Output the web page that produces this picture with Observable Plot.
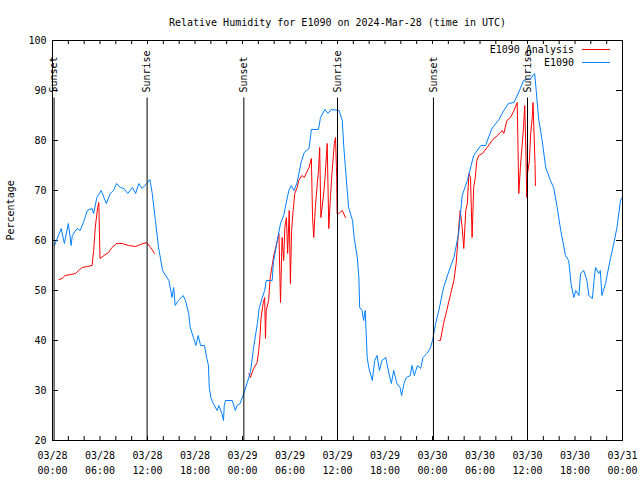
<!DOCTYPE html>
<html>
<head>
<meta charset="utf-8">
<script src="https://cdn.jsdelivr.net/npm/d3@7"></script>
<script src="https://cdn.jsdelivr.net/npm/@observablehq/plot@0.6"></script>
<style>
  html, body { margin: 0; padding: 0; background: #fff; }
  #chart { width: 640px; height: 480px; }
</style>
</head>
<body>
<div id="chart"></div>
<script>
// ---- data (hours since 2024-03-28 00:00 UTC) ----
const titleText = "Relative Humidity for E1090 on 2024-Mar-28 (time in UTC)";
const yLabel = "Percentage";
const seriesNames = ["E1090 Analysis", "E1090"];

const e1090Hours = [0.25,1.1,1.5,2.0,2.36,2.5,3.1,3.5,3.9,4.4,5.0,5.2,5.6,6.15,6.8,7.3,7.7,8.1,8.6,9.0,9.5,10.1,10.5,10.9,11.3,11.9,12.3,12.6,13.0,13.4,13.9,14.3,14.7,15.1,15.3,15.5,15.9,16.5,16.8,17.2,17.4,17.8,18.1,18.4,18.7,19.2,19.5,19.7,19.8,20.0,20.3,20.8,21.0,21.4,21.6,21.7,21.85,22.7,23.1,23.3,23.7,24.2,24.6,25.0,25.4,25.9,26.1,26.5,26.8,27.0,27.75,27.9,28.4,28.8,29.2,29.85,30.15,30.5,30.9,31.4,31.8,32.4,32.7,33.6,33.85,34.4,34.8,35.2,36.2,36.6,36.8,37.0,37.2,37.4,37.9,38.1,38.5,38.7,38.8,39.1,39.3,39.5,39.75,39.95,40.4,40.7,41.0,41.3,41.6,42.1,42.5,42.8,43.1,43.5,43.9,44.1,44.4,44.7,45.2,45.4,45.7,46.1,46.5,46.8,47.3,47.7,48.0,48.4,48.8,49.4,50.1,50.7,51.3,51.75,52.4,53.2,54.1,54.7,55.5,56.4,57.0,57.6,58.3,59.1,59.5,60.4,60.9,61.1,61.4,61.85,62.3,62.9,63.3,63.75,64.2,64.8,65.2,65.5,65.85,66.1,66.5,66.7,67.1,67.5,67.75,68.2,68.4,68.6,69.0,69.2,69.4,69.85,70.5,70.9,71.3,71.75,71.96];
const e1090Values = [59,62.4,59.4,63.4,59,61,62.4,62,63.6,66,66.4,65.4,68.6,70,67.4,69.4,70,71.4,70.6,70.4,69.4,70.6,69.4,71.4,70.4,71.4,72.2,69.4,64,58.6,54,53,52,48.6,50.6,47,48,49,48,45.4,42.6,40.6,39,41,39,39,36.4,35,30.6,28.6,27.4,26,27,25.4,24,27,28,28,26,27,27.4,29.6,31.6,33.6,38.6,43.6,46.4,48.6,50,52,52,55.6,60,63.4,65,70,71,70,71.6,75.6,77.6,78.4,82.2,82.2,84.6,86.2,85.4,86.2,86,84,78.6,74.6,70.6,66.6,64,60.6,56.6,52.6,46.6,46,44,46,36.6,34.6,32,36,37,34,36,36.6,33.4,31.4,34,31.4,30.6,29,31.4,32.6,33,35,33,35,34.4,36.6,37.4,38.4,40,43.4,46,50.6,54,56.6,61.4,69,72,77,79,79,82.4,84.2,86,87.4,87.6,90.4,92,92.4,93.4,90,84.4,80,74.6,72,70.6,66.6,62,57,56,51.4,48.6,50,49,53.4,54,52,49,48.4,52,54.6,53.4,54,49,51.4,56.6,59.4,62.6,68,68.6];

// null marks a gap in the analysis series
const analysisHours = [0.8,1.2,1.6,2.3,2.9,3.3,3.75,4.4,5.0,5.2,5.4,5.7,5.85,6.0,6.5,7.1,7.5,8.1,8.8,9.6,10.5,11.1,11.9,12.4,12.9,
  18.0,
  24.8,25.0,25.4,25.85,26.05,26.2,26.35,26.6,26.8,26.9,27.0,27.3,27.5,27.75,27.95,28.2,28.4,28.6,28.8,29.0,29.2,29.35,29.55,29.7,29.9,30.05,30.2,30.4,30.6,30.9,31.1,31.5,31.8,32.4,32.7,32.85,33.0,33.2,33.45,33.6,33.75,33.9,34.2,34.4,34.7,34.9,35.1,35.3,35.6,35.75,35.9,35.95,36.15,36.6,37.0,
  42.0,
  48.8,49.0,49.4,49.8,50.3,50.7,51.0,51.2,51.4,51.5,51.75,51.95,52.2,52.4,52.6,52.8,53.0,53.2,53.4,53.6,53.85,54.3,54.9,55.5,56.2,56.8,57.0,57.4,57.85,58.3,58.7,58.8,58.9,59.1,59.3,59.5,59.65,59.8,59.9,60.0,60.25,60.4,60.6,60.7,60.8,60.95,61.0];
const analysisValues = [52.2,52.4,53,53.2,53.4,54,54.6,54.8,55,58,62.6,66.6,67.6,56.4,57,57.6,58.6,59.4,59.4,59,58.8,59.2,59.6,58.6,57.4,
  null,
  33.4,32.6,34.4,35.6,38,40.6,44.6,47.4,48.6,40.4,46,48,52.6,55,57,58.6,60,61.4,47.6,60.6,56,62.6,64.6,57.4,66,51.4,62,66,69.4,70.6,72,73,72.6,74.6,76.4,64.6,60.6,66.6,71.4,74,78.6,64.6,68.6,72,79.4,62.4,68.6,73.4,79.4,80.6,72.6,65.4,65.4,66,64.6,
  null,
  40,40,43.4,46,49.4,52,55.6,60,64.4,66,62.6,58.4,66,67.4,73.4,72.6,60.6,70.6,72.6,76,77,77.4,78.6,80,81,82,81.4,84,84.6,86,87.6,78.6,69.4,74.6,78.6,82.6,87,78,68.6,73.4,76,81.4,84.6,87.6,82.6,75.4,71];

const sunEventNames = ["Sunset","Sunrise","Sunset","Sunrise","Sunset","Sunrise"];
const sunEventHours = [0.2,11.95,24.17,36.0,48.12,60.0];

const tickLabelHours = [0,6,12,18,24,30,36,42,48,54,60,66,72];
const yTicks = [20,30,40,50,60,70,80,90,100];

// ---- build tables ----
const t0 = Date.UTC(2024, 2, 28);
const toDate = h => new Date(t0 + h * 3600e3);
const e1090 = e1090Hours.map((h, i) => ({t: toDate(h), v: e1090Values[i]}));
const analysis = analysisHours.map((h, i) => ({t: toDate(h), v: analysisValues[i]}));
const sun = sunEventHours.map((h, i) => ({t: toDate(h), name: sunEventNames[i]}));
const tickDates = tickLabelHours.map(toDate);
const minorTicks = d3.utcHour.every(2).range(toDate(0), toDate(72.01));
const fmt = d3.utcFormat("%m/%d\n%H:%M");

const colors = {analysis: "#ff0000", e1090: "#0080ff"};
const FONT = "'DejaVu Sans Mono', monospace";

function legend(index, scales, values, dims) {
  const g = d3.create("svg:g").attr("font-family", FONT).attr("font-size", 10);
  const right = dims.width - dims.marginRight;
  const top = dims.marginTop;
  const items = [[seriesNames[0], colors.analysis], [seriesNames[1], colors.e1090]];
  items.forEach(([name, c], i) => {
    const y = top + 9.5 + i * 13;
    g.append("text").attr("x", right - 48).attr("y", y).attr("dy", "0.35em")
      .attr("text-anchor", "end").attr("fill", "black").text(name);
    g.append("line").attr("x1", right - 40).attr("x2", right - 12)
      .attr("y1", y).attr("y2", y).attr("stroke", c).attr("stroke-width", 1);
  });
  return g.node();
}

const chart = Plot.plot({
  width: 640,
  height: 480,
  marginLeft: 52,
  marginRight: 18,
  marginTop: 40,
  marginBottom: 40,
  style: {fontFamily: FONT, fontSize: "10px", background: "#fff", color: "black"},
  x: {type: "utc", domain: [toDate(0), toDate(72)], axis: null},
  y: {domain: [20, 100], axis: null},
  marks: [
    // inward ticks
    Plot.ruleX(minorTicks, {stroke: "black", insetTop: 396}),
    Plot.ruleX(minorTicks, {stroke: "black", insetBottom: 396}),
    Plot.ruleY(yTicks, {stroke: "black", insetRight: 564}),
    Plot.ruleY(yTicks, {stroke: "black", insetLeft: 564}),
    // y tick labels
    Plot.text(yTicks, {y: d => d, text: d => String(d), frameAnchor: "left", textAnchor: "end", dx: -6, fill: "black"}),
    // x tick labels
    Plot.text(tickDates, {x: d => d, text: d => fmt(d), frameAnchor: "bottom", lineAnchor: "top", dy: 8, lineHeight: 1.5, fill: "black"}),
    // series
    Plot.line(analysis, {x: "t", y: "v", stroke: colors.analysis, strokeWidth: 1, curve: "linear"}),
    Plot.line(e1090, {x: "t", y: "v", stroke: colors.e1090, strokeWidth: 1, curve: "linear"}),
    // sun events
    Plot.ruleX(sun, {x: "t", y1: 20, y2: 88.5, stroke: "black", strokeWidth: 1}),
    Plot.text(sun, {x: "t", y: 89.6, text: "name", rotate: -90, textAnchor: "start", fill: "black"}),
    Plot.frame({stroke: "black"}),
    // title & y label
    Plot.text([titleText], {frameAnchor: "top", dy: -22, fill: "black"}),
    Plot.text([yLabel], {frameAnchor: "left", rotate: -90, dx: -42, fill: "black"}),
    legend
  ]
});
document.getElementById("chart").appendChild(chart);
</script>
</body>
</html>
